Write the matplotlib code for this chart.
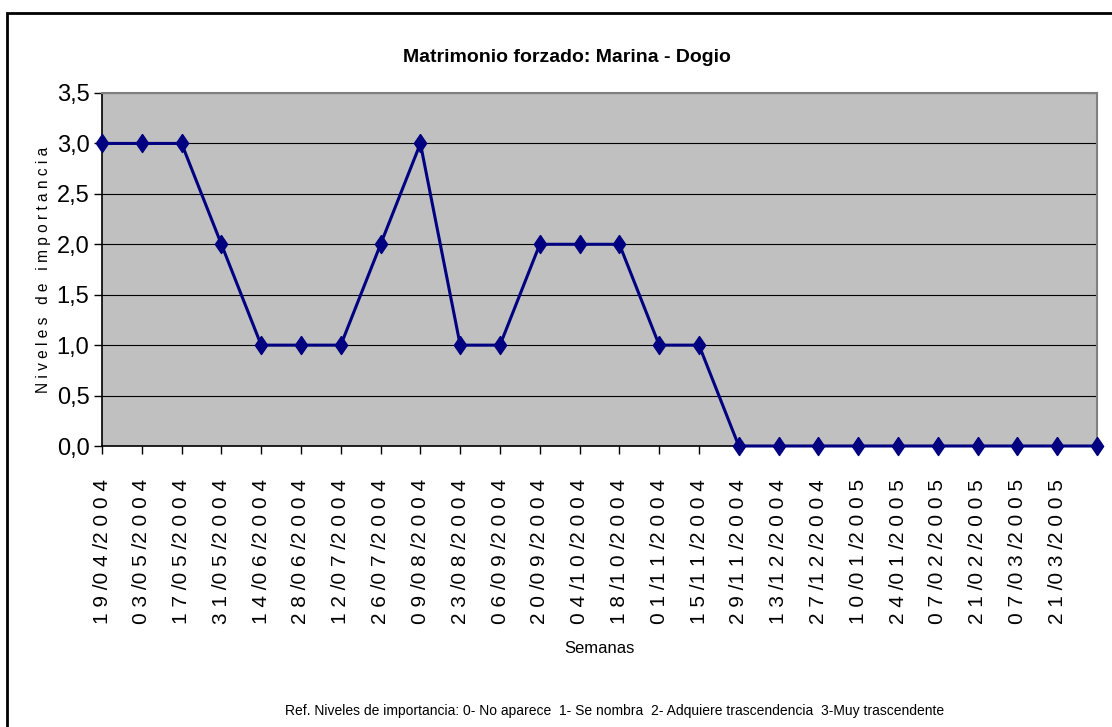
import matplotlib
matplotlib.use("Agg")
import matplotlib.pyplot as plt
from matplotlib.patches import Rectangle

# semanas (quincenas) y niveles de importancia
semanas = ["19/04/2004", "03/05/2004", "17/05/2004", "31/05/2004", "14/06/2004",
           "28/06/2004", "12/07/2004", "26/07/2004", "09/08/2004", "23/08/2004",
           "06/09/2004", "20/09/2004", "04/10/2004", "18/10/2004", "01/11/2004",
           "15/11/2004", "29/11/2004", "13/12/2004", "27/12/2004", "10/01/2005",
           "24/01/2005", "07/02/2005", "21/02/2005", "07/03/2005", "21/03/2005",
           "04/04/2005"]
niveles = [3, 3, 3, 2, 1, 1, 1, 2, 3, 1, 1, 2, 2, 2, 1, 1,
           0, 0, 0, 0, 0, 0, 0, 0, 0, 0]
# the last category has no visible label in the original
mostrar = [True] * 25 + [False]

yticks = [0, 0.5, 1.0, 1.5, 2.0, 2.5, 3.0, 3.5]

plt.rcParams['font.family'] = ["Liberation Sans", "DejaVu Sans"]


def espaciar(s):
    # excel-like letter spacing: "1 9 /0 4 /2 0 0 4"
    out = ""
    for i, c in enumerate(s):
        out += c
        if i < len(s) - 1 and c != "/":
            out += " "
    return out


# excel style diamond, a bit taller than wide
rombo = [(0, 1), (0.68, 0), (0, -1), (-0.68, 0), (0, 1)]

fig = plt.figure(figsize=(11.12, 7.27), dpi=100)
ax = fig.add_axes([102/1112, 1 - 446/727, (1097-102)/1112, (446-93)/727])
ax.set_facecolor("#c0c0c0")

x = list(range(len(niveles)))
ax.plot(x, niveles, color="#000080", lw=2.2, marker=rombo, ms=13,
        markerfacecolor="#000080", markeredgecolor="#000080", mew=1,
        clip_on=False, zorder=3)

ax.set_xlim(0, len(niveles) - 1)
ax.set_ylim(0, 3.5)
ax.set_yticks(yticks)
ax.set_yticklabels([("%.1f" % v).replace(".", ",") for v in yticks], fontsize=17)
ax.set_xticks(x)
ax.set_xticklabels([espaciar(s) if m else "" for s, m in zip(semanas, mostrar)],
                   rotation=90, fontsize=15)
ax.tick_params(axis="x", direction="out", length=6, width=1, pad=18)
ax.tick_params(axis="y", direction="out", length=6, width=1, pad=3)

ax.grid(axis="y", color="black", lw=0.8)
ax.set_axisbelow(True)
for s in ["top", "right"]:
    ax.spines[s].set_color("#808080")
    ax.spines[s].set_linewidth(1.5)
for s in ["left", "bottom"]:
    ax.spines[s].set_color("black")
    ax.spines[s].set_linewidth(1.2)

ax.set_ylabel(" ".join("Niveles de importancia"), fontsize=11.2, labelpad=4)
ax.set_xlabel("Semanas", fontsize=12, labelpad=12)

fig.text(567/1112, 1 - 57/727, "Matrimonio forzado: Marina - Dogio",
         ha="center", va="center", fontsize=14, fontweight="bold")
fig.text(615/1112, 1 - 711/727,
         "Ref. Niveles de importancia: 0- No aparece  1- Se nombra  2- Adquiere trascendencia  3-Muy trascendente",
         ha="center", va="center", fontsize=10)

# chart frame (cut off at right and bottom in the original)
fig.patches.append(Rectangle((7/1112, -0.05), 1.2, 1 - 13/727 + 0.05,
                             transform=fig.transFigure, fill=False,
                             edgecolor="black", lw=2))

fig.savefig("out.png", dpi=100)
